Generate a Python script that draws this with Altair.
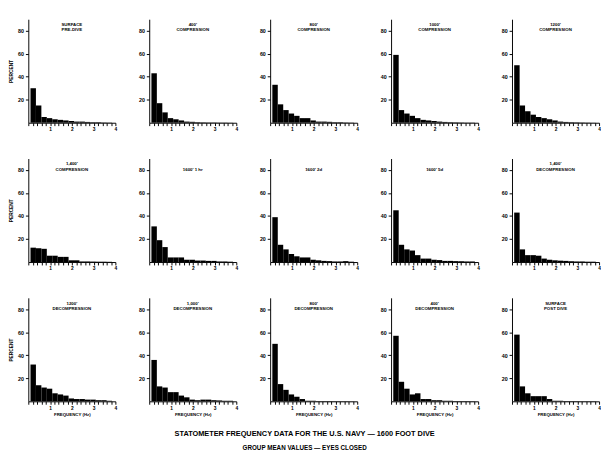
import altair as alt
import pandas as pd

# bin edges (frequency, Hz)
bin_lo = [0.10, 0.35, 0.60, 0.85, 1.10, 1.35, 1.60, 1.85, 2.10, 2.35, 2.60, 2.85, 3.10, 3.35, 3.60]
bin_hi = [0.35, 0.60, 0.85, 1.10, 1.35, 1.60, 1.85, 2.10, 2.35, 2.60, 2.85, 3.10, 3.35, 3.60, 3.85]

# panel titles (two lines each)
titles = [
    ["SURFACE", "PRE-DIVE"],
    ["400'", "COMPRESSION"],
    ["800'", "COMPRESSION"],
    ["1000'", "COMPRESSION"],
    ["1200'", "COMPRESSION"],
    ["1,400'", "COMPRESSION"],
    ["1600' 1 hr"],
    ["1600' 2d"],
    ["1600' 5d"],
    ["1,400'", "DECOMPRESSION"],
    ["1200'", "DECOMPRESSION"],
    ["1,000'", "DECOMPRESSION"],
    ["800'", "DECOMPRESSION"],
    ["400'", "DECOMPRESSION"],
    ["SURFACE", "POST DIVE"],
]

# percent of samples per bin, one list per panel
p01 = [30, 15, 5, 4, 3, 2.5, 2, 1.5, 1, 1, 0.7, 0.5, 0.5, 0.3, 0.2]
p02 = [43, 17, 9, 4, 3, 2, 1, 0.8, 0.5, 0.4, 0.3, 0.3, 0.2, 0.2, 0.1]
p03 = [33, 16, 11, 8, 6, 4, 4, 2, 1, 1, 0.8, 0.5, 0.5, 0.3, 0.2]
p04 = [59, 11, 8, 6, 4, 2.5, 2, 1.5, 1, 0.7, 0.5, 0.4, 0.3, 0.2, 0.2]
p05 = [50, 15, 10, 7, 5, 4, 3, 2, 1, 0.7, 0.5, 0.4, 0.3, 0.2, 0.1]
p06 = [12.5, 12, 11.5, 5.5, 5.5, 4.5, 4.5, 1.5, 1.5, 0.5, 0.5, 0.4, 0.3, 0.3, 0.2]
p07 = [31, 19, 13, 4, 4, 4, 2, 2, 1.3, 1.3, 1, 1, 0.5, 0.5, 0.3]
p08 = [39, 15, 11, 7, 5, 4, 4, 2, 1.5, 1, 0.8, 0.5, 0.5, 0.8, 0.3]
p09 = [45, 15, 11, 10, 6, 3, 3, 2, 1.7, 1, 1, 0.8, 0.7, 0.5, 0.5]
p10 = [43, 11, 6, 6, 5.5, 3, 2, 1.5, 1.2, 1, 0.7, 0.5, 0.5, 0.3, 0.3]
p11 = [32, 14, 12, 11, 7, 6, 5, 2.5, 2, 2, 1.5, 1.5, 1, 1, 0.5]
p12 = [36, 13, 12, 8, 8, 5, 3.5, 1.5, 1, 1.5, 1.5, 1, 0.8, 0.5, 0.5]
p13 = [50, 15, 10, 6, 4, 2, 0.5, 0.5, 0.3, 0.3, 0.3, 0.2, 0.2, 0.2, 0.1]
p14 = [57, 17, 11, 6, 7, 2, 2, 1, 1, 0.5, 0.5, 0.3, 0.3, 0.3, 0.2]
p15 = [58, 13, 7, 4.5, 4.5, 4.5, 2, 0.5, 0.5, 0.3, 0.3, 0.3, 0.2, 0.2, 0.2]

panels = [p01, p02, p03, p04, p05, p06, p07, p08, p09, p10, p11, p12, p13, p14, p15]

x_ticks = [0.0, 0.2, 0.4, 0.6, 0.8, 1.0, 1.2, 1.4, 1.6, 1.8, 2.0, 2.2, 2.4, 2.6, 2.8,
           3.0, 3.2, 3.4, 3.6, 3.8, 4.0]
y_ticks = [20, 40, 60, 80]

rows = []
for k, vals in enumerate(panels):
    for lo, hi, v in zip(bin_lo, bin_hi, vals):
        rows.append({"panel": k, "lo": lo, "hi": hi, "pct": v})
df = pd.DataFrame(rows)

FONT = "Liberation Sans"
W, H = 90, 107


def make_panel(k):
    r, c = divmod(k, 5)
    x_axis = alt.Axis(
        values=x_ticks,
        labelExpr="datum.value >= 0.99 && abs(datum.value - round(datum.value)) < 0.01 ? format(datum.value, 'd') : ''",
        tickSize=3, labelPadding=1, labelFontSize=5, labelFlush=False, grid=False,
        title="FREQUENCY (Hz)" if r == 2 else None,
        titleFontSize=4.5, titlePadding=2,
    )
    y_axis = alt.Axis(
        values=y_ticks, tickSize=3, labelPadding=2, labelFontSize=5.5, grid=False,
        title="PERCENT" if c == 0 else None, titleFontSize=5, titlePadding=4,
    )
    return (
        alt.Chart(df)
        .transform_filter(alt.datum.panel == k)
        .mark_rect(color="black", strokeWidth=0)
        .encode(
            x=alt.X("lo:Q", scale=alt.Scale(domain=[0, 4], nice=False), axis=x_axis),
            x2="hi:Q",
            y=alt.Y("pct:Q", scale=alt.Scale(domain=[0, 90], nice=False), axis=y_axis),
            y2=alt.Y2(datum=0),
        )
        .properties(
            width=W, height=H,
            title=alt.TitleParams(text=titles[k], fontSize=4.5, font=FONT, fontWeight="bold",
                                  color="black", anchor="middle", offset=-13, lineHeight=5.5),
        )
    )


grid = alt.vconcat(
    *[alt.hconcat(*[make_panel(r * 5 + c) for c in range(5)], spacing=21) for r in range(3)],
    spacing=28,
)

chart = (
    grid.properties(
        title=alt.TitleParams(
            text="STATOMETER FREQUENCY DATA FOR THE U.S. NAVY — 1600 FOOT DIVE",
            subtitle="GROUP MEAN VALUES — EYES CLOSED",
            orient="bottom", anchor="middle", offset=14,
            font=FONT, fontSize=7.6, fontWeight="bold", color="black",
            subtitleFont=FONT, subtitleFontSize=6.5, subtitleFontWeight="bold",
            subtitleColor="black", subtitlePadding=8,
        ),
        padding={"left": 0, "top": 4, "right": 0, "bottom": 0},
        background="white",
    )
    .configure_view(stroke=None)
    .configure_axis(
        grid=False, domainColor="black", domainWidth=1, tickColor="black", tickWidth=1,
        labelColor="black", titleColor="black", labelFont=FONT, titleFont=FONT,
        labelFontWeight="bold", titleFontWeight="bold",
    )
)

chart.save("out.html", embed_options={"renderer": "svg", "actions": False})
